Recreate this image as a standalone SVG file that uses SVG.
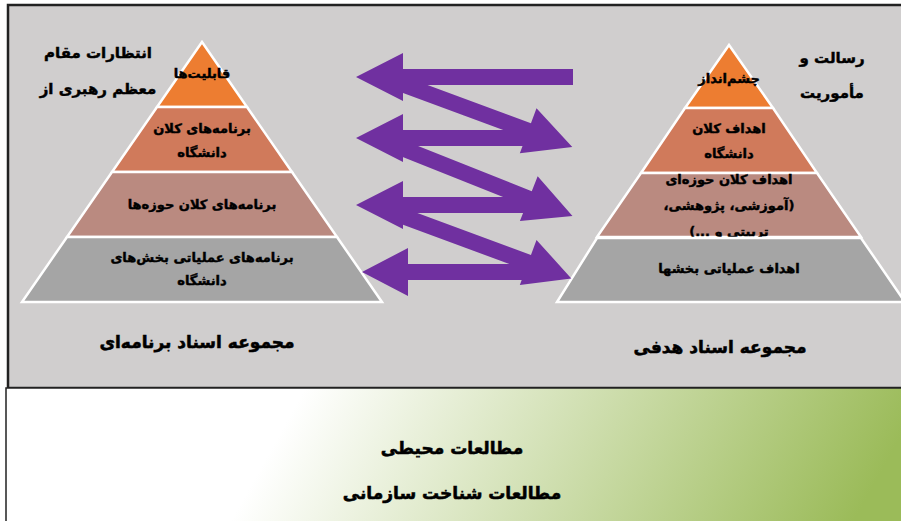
<svg xmlns="http://www.w3.org/2000/svg" width="901" height="521" viewBox="0 0 901 521">
<defs>
<linearGradient id="green" gradientUnits="userSpaceOnUse" x1="290" y1="415" x2="765" y2="680">
<stop offset="0" stop-color="#ffffff"/>
<stop offset="1" stop-color="#9BBB59"/>
</linearGradient>
<style>
text{font-family:"DejaVu Sans",sans-serif;font-weight:bold;fill:#000;stroke:#000;stroke-width:0.45;text-anchor:middle;direction:rtl}
.l{font-size:13px}
.h{font-size:15px}
.b{font-size:17px;stroke-width:0.55}
.lay{stroke:#fff;stroke-width:2.5}
.arr{fill:#7030A0}
</style>
</defs>
<rect x="8" y="5" width="900" height="383" fill="#D0CECE" stroke="#222" stroke-width="2.5"/>
<rect x="6" y="388" width="900" height="140" fill="url(#green)" stroke="#222" stroke-width="1.5"/>

<g id="left-pyramid">
<polygon class="lay" points="202,42 157,107 247,107" fill="#ED7D31"/>
<text class="l" x="202" y="78">قابلیت&#x200C;ها</text>
<polygon class="lay" points="157,107 247,107 292,172 112,172" fill="#D07A5B"/>
<text class="l" x="202" y="133">برنامه&#x200C;های کلان</text>
<text class="l" x="202" y="157">دانشگاه</text>
<polygon class="lay" points="112,172 292,172 337,237 67,237" fill="#BA8A80"/>
<text class="l" x="202" y="209">برنامه&#x200C;های کلان حوزه&#x200C;ها</text>
<polygon class="lay" points="67,237 337,237 382,302 22,302" fill="#A5A5A5"/>
<text class="l" x="202" y="262">برنامه&#x200C;های عملیاتی بخش&#x200C;های</text>
<text class="l" x="202" y="285">دانشگاه</text>
</g>

<g id="left-note">
<text class="h" x="98" y="58">انتظارات مقام</text>
<text class="h" x="98" y="94">معظم رهبری از</text>
</g>
<g id="left-title"><text class="b" x="197" y="348">مجموعه اسناد برنامه&#x200C;ای</text></g>

<g id="right-pyramid">
<polygon class="lay" points="729,45 685,108 773,108" fill="#ED7D31"/>
<text class="l" x="729" y="83">چشم&#x200C;انداز</text>
<polygon class="lay" points="685,108 773,108 817,173 641,173" fill="#D07A5B"/>
<text class="l" x="729" y="133">اهداف کلان</text>
<text class="l" x="729" y="158">دانشگاه</text>
<polygon class="lay" points="641,173 817,173 861,237 597,237" fill="#BA8A80"/>
<text class="l" x="729" y="184">اهداف کلان حوزه&#x200C;ای</text>
<text class="l" x="729" y="210">(آموزشی، پژوهشی،</text>
<text class="l" x="729" y="236">تربیتی و ...)</text>
<polygon class="lay" points="597,238 861,238 905,302 557,302" fill="#A5A5A5"/>
<text class="l" x="729" y="273">اهداف عملیاتی بخشها</text>
</g>

<g id="right-note">
<text class="h" x="832" y="63">رسالت و</text>
<text class="h" x="832" y="98">مأموریت</text>
</g>
<g id="right-title"><text class="b" x="720" y="353">مجموعه اسناد هدفی</text></g>

<g id="connectors">
<polygon class="arr" transform="translate(395,81.4) rotate(20.3)" points="0,-8 142,-8 142,-24 189,0 142,24 142,8 0,8"/>
<polygon class="arr" transform="translate(395,145.4) rotate(21.7)" points="0,-8 144,-8 144,-24 191,0 144,24 144,8 0,8"/>
<polygon class="arr" transform="translate(395,213.2) rotate(20.3)" points="0,-8 142,-8 142,-24 188,0 142,24 142,8 0,8"/>
<polygon class="arr" points="356,77 403,53 403,69 573,69 573,85 403,85 403,101"/>
<polygon class="arr" points="356,138 403,114 403,130 532,130 532,146 403,146 403,162"/>
<polygon class="arr" points="356,205 403,181 403,197 532,197 532,213 403,213 403,229"/>
<polygon class="arr" points="362,272 408,248 408,264 532,264 532,280 408,280 408,296"/>
</g>

<g id="bottom-box">
<text class="b" x="452" y="454">مطالعات محیطی</text>
<text class="b" x="452" y="499">مطالعات شناخت سازمانی</text>
</g>
</svg>
